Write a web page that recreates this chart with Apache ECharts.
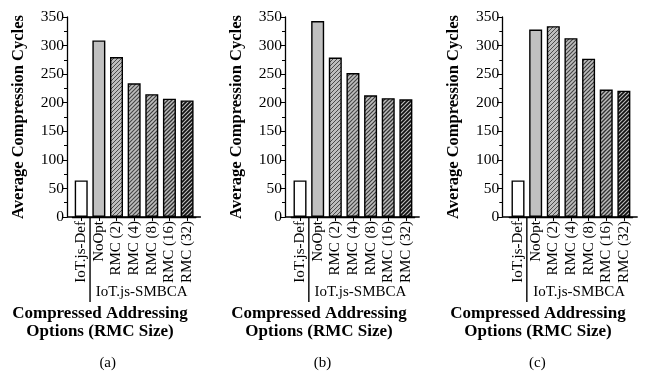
<!DOCTYPE html>
<html>
<head>
<meta charset="utf-8">
<script src="https://cdn.jsdelivr.net/npm/echarts@6/dist/echarts.min.js"></script>
<style>
html,body{margin:0;padding:0;background:#fff;}
#chart{width:654px;height:371px;}
</style>
</head>
<body>
<div id="chart"></div>
<script>
const categories = ['IoT.js-Def', 'NoOpt', 'RMC (2)', 'RMC (4)', 'RMC (8)', 'RMC (16)', 'RMC (32)'];
const valuesA = [64, 309, 280, 234, 215, 207, 204];
const valuesB = [64, 343, 279, 252, 213, 208, 206];
const valuesC = [64, 328, 334, 313, 277, 223, 221];
const panelValues = [valuesA, valuesB, valuesC];
const panelLabels = ['(a)', '(b)', '(c)'];
const groupLabel = 'IoT.js-SMBCA';
const yTitle = 'Average Compression Cycles';
const xTitle1 = 'Compressed Addressing';
const xTitle2 = 'Options (RMC Size)';
const yMin = 0, yMax = 350, yStep = 50;

const SERIF = '"Liberation Serif", "Times New Roman", serif';

function hatch(lineColor, lw) {
  const s = 4;
  const c = document.createElement('canvas');
  c.width = s; c.height = s;
  const g = c.getContext('2d');
  g.fillStyle = '#bdbdbd';
  g.fillRect(0, 0, s, s);
  g.strokeStyle = lineColor;
  g.lineWidth = lw;
  g.beginPath();
  for (let k = -1; k <= 1; k++) {
    g.moveTo(-1 + k * s, s + 1);
    g.lineTo(s + 1 + k * s, -1);
  }
  g.stroke();
  return c;
}
const fills = [
  '#ffffff',
  '#c0c0c0',
  { image: hatch('#4a4a4a', 1.0), repetition: 'repeat' },
  { image: hatch('#444444', 1.1), repetition: 'repeat' },
  { image: hatch('#3c3c3c', 1.2), repetition: 'repeat' },
  { image: hatch('#333333', 1.35), repetition: 'repeat' },
  { image: hatch('#111111', 1.7), repetition: 'repeat' }
];

const gridLefts = [72.4, 291.2, 509.2];
const yAxisX = [67, 285, 502.3];
const gridWidth = 123.5;
const gridTop = 17, gridHeight = 200;

const grids = [], xAxes = [], yAxes = [], series = [], graphics = [];
for (let p = 0; p < 3; p++) {
  grids.push({ left: gridLefts[p], top: gridTop, width: gridWidth, height: gridHeight });
  xAxes.push({
    type: 'category', gridIndex: p, data: categories,
    axisLine: { show: true, lineStyle: { color: '#000', width: 1.3 } },
    axisTick: { show: true, alignWithLabel: true, length: 4, lineStyle: { color: '#000', width: 1 } },
    axisLabel: { rotate: 90, margin: 4, color: '#000', fontFamily: SERIF, fontSize: 15, interval: 0 }
  });
  yAxes.push({
    type: 'value', gridIndex: p, min: yMin, max: yMax, interval: yStep,
    offset: gridLefts[p] - yAxisX[p],
    name: yTitle, nameLocation: 'middle', nameRotate: 90, nameGap: 40,
    nameTextStyle: { color: '#000', fontFamily: SERIF, fontSize: 16.5, fontWeight: 'bold' },
    axisLine: { show: true, lineStyle: { color: '#000', width: 1.3 } },
    axisTick: { show: true, length: 5, lineStyle: { color: '#000', width: 1 } },
    minorTick: { show: true, splitNumber: 2, length: 3, lineStyle: { color: '#000', width: 1 } },
    splitLine: { show: false },
    axisLabel: { color: '#000', fontFamily: SERIF, fontSize: 15.5, margin: 3 }
  });
  series.push({
    type: 'bar', xAxisIndex: p, yAxisIndex: p, barWidth: 13, animation: false,
    data: panelValues[p].map((v, i) => ({
      value: v,
      itemStyle: { color: fills[i], borderColor: '#000', borderWidth: 1.4 }
    }))
  });
  const band = gridWidth / categories.length;
  const baseY = gridTop + gridHeight;
  graphics.push({ type: 'line', shape: { x1: yAxisX[p], y1: baseY, x2: gridLefts[p] + gridWidth + 5, y2: baseY },
    style: { stroke: '#000', lineWidth: 1.3 }, silent: true });
  const sx = gridLefts[p] + band;
  graphics.push({ type: 'line', shape: { x1: sx, y1: baseY, x2: sx, y2: 302 },
    style: { stroke: '#000', lineWidth: 1.4 }, silent: true });
  const dx = [0, 218.7, 437.5][p];
  graphics.push({ type: 'text', x: 141.7 + dx, y: 292, style: { text: groupLabel, textAlign: 'center', textVerticalAlign: 'middle', font: '15px ' + SERIF, fill: '#000' } });
  const tx = [100, 319, 538][p];
  graphics.push({ type: 'text', x: tx, y: 313.5, style: { text: xTitle1, textAlign: 'center', textVerticalAlign: 'middle', font: 'bold 17px ' + SERIF, fill: '#000' } });
  graphics.push({ type: 'text', x: tx, y: 332, style: { text: xTitle2, textAlign: 'center', textVerticalAlign: 'middle', font: 'bold 17px ' + SERIF, fill: '#000' } });
  const lx = [107.7, 322.5, 537.3][p];
  graphics.push({ type: 'text', x: lx, y: 363, style: { text: panelLabels[p], textAlign: 'center', textVerticalAlign: 'middle', font: '15px ' + SERIF, fill: '#000' } });
}

const chart = echarts.init(document.getElementById('chart'), null, { renderer: 'canvas' });
chart.setOption({
  animation: false,
  backgroundColor: '#fff',
  grid: grids, xAxis: xAxes, yAxis: yAxes, series: series,
  graphic: { elements: graphics }
});
</script>
</body>
</html>
